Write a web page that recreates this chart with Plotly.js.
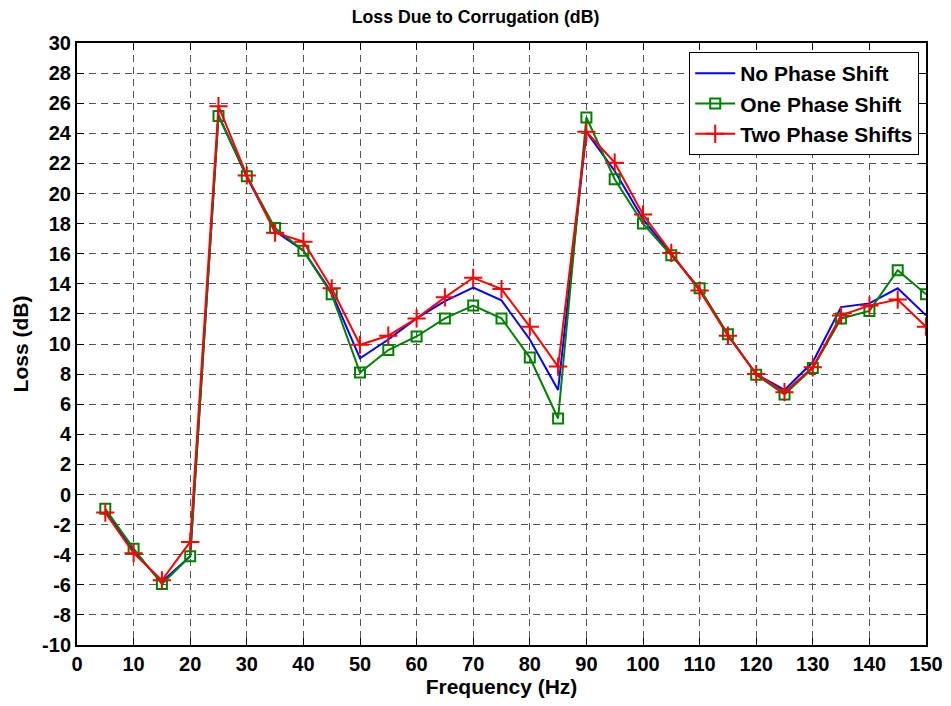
<!DOCTYPE html>
<html>
<head>
<meta charset="utf-8">
<script src="https://cdn.plot.ly/plotly-3.0.1.min.js"></script>
<style>html,body{margin:0;padding:0;background:#fff;}#chart{width:951px;height:706px;}</style>
</head>
<body>
<div id="chart"></div>
<script>
const freq = [5,10,15,20,25,30,35,40,45,50,55,60,65,70,75,80,85,90,95,100,105,110,115,120,125,130,135,140,145,150];
const noPhase = [-1.1,-3.8,-5.8,-4.1,25.2,21.1,17.5,16.2,13.4,9.05,10.3,11.7,12.85,13.75,12.9,10.3,6.95,24.1,21.5,18.3,15.95,13.6,10.6,8.0,6.95,8.8,12.45,12.7,13.7,11.9];
const onePhase = [-0.95,-3.6,-5.95,-4.1,25.15,21.15,17.7,16.2,13.3,8.1,9.6,10.5,11.7,12.55,11.7,9.1,5.05,25.05,20.95,18.0,15.9,13.7,10.65,7.95,6.65,8.4,11.7,12.2,14.9,13.3];
const twoPhase = [-1.2,-3.9,-5.7,-3.15,25.8,21.2,17.4,16.8,13.7,9.95,10.55,11.7,13.1,14.4,13.65,11.15,8.5,24.1,22.05,18.6,16.05,13.55,10.55,8.0,6.8,8.45,11.9,12.55,12.95,11.15];
const xTicks = [0,10,20,30,40,50,60,70,80,90,100,110,120,130,140,150];
const yTicks = [30,28,26,24,22,20,18,16,14,12,10,8,6,4,2,0,-2,-4,-6,-8,-10];
const seriesNames = ["No Phase Shift","One Phase Shift","Two Phase Shifts"];

const FONT = "Liberation Sans, Arial, sans-serif";
const traces = [
  {x: freq, y: noPhase, name: seriesNames[0], mode: "lines",
   line: {color: "#0000ff", width: 2}},
  {x: freq, y: onePhase, name: seriesNames[1], mode: "lines+markers",
   line: {color: "#008000", width: 2},
   marker: {symbol: "square-open", size: 10, color: "#008000", line: {width: 2, color: "#008000"}}},
  {x: freq, y: twoPhase, name: seriesNames[2], mode: "lines+markers",
   line: {color: "#ff0000", width: 2},
   marker: {symbol: "cross-thin-open", size: 13, color: "#ff0000", line: {width: 2, color: "#ff0000"}}}
];

const axisCommon = {
  showline: true, linecolor: "#000", linewidth: 2, mirror: "ticks",
  ticks: "inside", ticklen: 7, tickwidth: 1, tickcolor: "#000",
  showgrid: true, gridcolor: "#555", gridwidth: 1, griddash: "7px,5px",
  zeroline: false,
  tickfont: {family: FONT, size: 20, color: "#000", weight: "bold"}
};

const layout = {
  width: 951, height: 706,
  margin: {l: 77, r: 25, t: 43, b: 61},
  paper_bgcolor: "#fff", plot_bgcolor: "#fff",
  title: {text: "Loss Due to Corrugation (dB)", x: 0.5, xanchor: "center", y: 0.985, yanchor: "top",
          font: {family: FONT, size: 17.7, color: "#000", weight: "bold"}},
  xaxis: Object.assign({}, axisCommon, {
    range: [0, 150], tickvals: xTicks, ticktext: xTicks.map(String),
    title: {text: "Frequency (Hz)", standoff: 5, font: {family: FONT, size: 21, color: "#000", weight: "bold"}}
  }),
  yaxis: Object.assign({}, axisCommon, {
    range: [-10, 30], tickvals: yTicks, ticktext: yTicks.map(String),
    title: {text: "Loss (dB)", standoff: 8, font: {family: FONT, size: 21, color: "#000", weight: "bold"}}
  }),
  legend: {x: 0.992, xanchor: "right", y: 0.985, yanchor: "top",
           bgcolor: "#fff", bordercolor: "#000", borderwidth: 1,
           font: {family: FONT, size: 21, color: "#000", weight: "bold"},
           tracegroupgap: 0, itemwidth: 40},
  showlegend: true
};

Plotly.newPlot("chart", traces, layout, {staticPlot: true, displayModeBar: false});
</script>
</body>
</html>
